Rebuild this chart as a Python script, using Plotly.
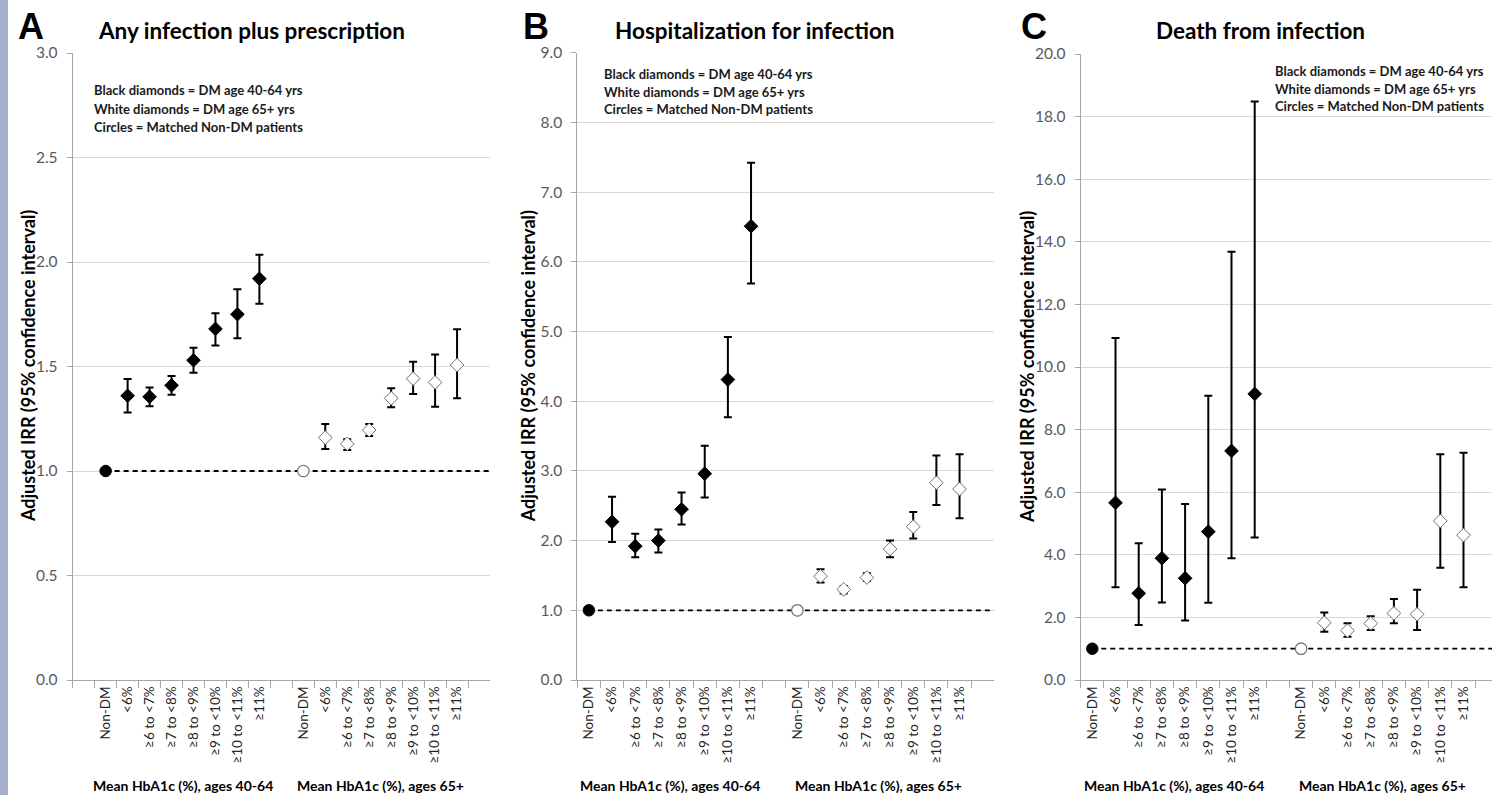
import plotly.graph_objects as go

W, H = 1492, 795

# ---------------- data ----------------
LABELS = ["Non-DM", "<6%", "≥6 to <7%", "≥7 to <8%", "≥8 to <9%", "≥9 to <10%", "≥10 to <11%", "≥11%"]
GROUP_TITLES = ["Mean HbA1c (%), ages 40-64", "Mean HbA1c (%), ages 65+"]
PANEL_LETTERS = ["A", "B", "C"]
PANEL_TITLES = ["Any infection plus prescription", "Hospitalization for infection", "Death from infection"]
Y_TITLE = "Adjusted IRR (95% confidence interval)"
LEGEND_LINES = ["Black diamonds = DM age 40-64 yrs", "White diamonds = DM age 65+ yrs", "Circles = Matched Non-DM patients"]
NON_DM_IRR = 1.0

# Panel A: Any infection plus prescription
A_dm40 = [1.36, 1.355, 1.41, 1.53, 1.68, 1.75, 1.92]
A_dm40_lo = [1.28, 1.31, 1.365, 1.47, 1.60, 1.635, 1.80]
A_dm40_hi = [1.44, 1.40, 1.455, 1.59, 1.755, 1.87, 2.035]
A_dm65 = [1.16, 1.13, 1.196, 1.348, 1.442, 1.424, 1.507]
A_dm65_lo = [1.105, 1.10, 1.167, 1.305, 1.368, 1.308, 1.348]
A_dm65_hi = [1.225, 1.152, 1.225, 1.396, 1.523, 1.558, 1.678]

# Panel B: Hospitalization for infection
B_dm40 = [2.27, 1.92, 2.00, 2.45, 2.96, 4.31, 6.51]
B_dm40_lo = [1.98, 1.76, 1.83, 2.23, 2.62, 3.77, 5.69]
B_dm40_hi = [2.63, 2.10, 2.16, 2.69, 3.36, 4.92, 7.42]
B_dm65 = [1.49, 1.30, 1.47, 1.88, 2.20, 2.83, 2.74]
B_dm65_lo = [1.40, 1.24, 1.42, 1.76, 2.03, 2.51, 2.32]
B_dm65_hi = [1.59, 1.35, 1.53, 2.00, 2.41, 3.22, 3.24]

# Panel C: Death from infection
C_dm40 = [5.66, 2.77, 3.89, 3.25, 4.74, 7.32, 9.14]
C_dm40_lo = [2.96, 1.76, 2.48, 1.90, 2.47, 3.89, 4.55]
C_dm40_hi = [10.93, 4.37, 6.09, 5.62, 9.08, 13.68, 18.48]
C_dm65 = [1.83, 1.58, 1.81, 2.13, 2.10, 5.08, 4.63]
C_dm65_lo = [1.54, 1.38, 1.60, 1.81, 1.60, 3.59, 2.96]
C_dm65_hi = [2.16, 1.81, 2.04, 2.59, 2.88, 7.21, 7.26]

# ---------------- categories ----------------
G40 = LABELS[:]
G65 = [l + "\u200b" for l in LABELS]          # same text, unique category key
CATS_A = [" "] + G40 + ["  "] + G65 + ["   "]
CATS_BC = G40 + [" "] + G65 + ["  "]

panels = [
    dict(cats=CATS_A, d40=(A_dm40, A_dm40_lo, A_dm40_hi), d65=(A_dm65, A_dm65_lo, A_dm65_hi),
         xdom=(72.7, 490.0), ytop=53.0, yrange=(0, 3), dtick=0.5, xend=len(CATS_A) - 0.5,
         legx=92, legy=[90.5, 109, 127], letterx=31, titlex=251, ytitlex=27.5),
    dict(cats=CATS_BC, d40=(B_dm40, B_dm40_lo, B_dm40_hi), d65=(B_dm65, B_dm65_lo, B_dm65_hi),
         xdom=(577.3, 994.3), ytop=52.7, yrange=(0, 9), dtick=1, xend=len(CATS_BC) - 0.5,
         legx=601.5, legy=[74, 91.7, 109], letterx=536, titlex=755, ytitlex=528),
    dict(cats=CATS_BC, d40=(C_dm40, C_dm40_lo, C_dm40_hi), d65=(C_dm65, C_dm65_lo, C_dm65_hi),
         xdom=(1080.7, 1492.0), ytop=54.0, yrange=(0, 20), dtick=2, xend=-0.5 + (1492.0 - 1080.7) / 23.2,
         legx=1273, legy=[71, 89.3, 106], letterx=1034, titlex=1260, ytitlex=1027),
]
YBOT = 680.0

FONT = "Lato"
fig = go.Figure()
annotations = []
shapes = []

# left decorative strip
shapes.append(dict(type="rect", xref="paper", yref="paper", x0=0, x1=8 / W, y0=0, y1=1,
                   fillcolor="#a5b0cc", line=dict(width=0), layer="below"))

for i, p in enumerate(panels):
    sfx = "" if i == 0 else str(i + 1)
    xa, ya = "x" + sfx, "y" + sfx
    cats = p["cats"]

    # invisible trace registering every category (incl. spacers)
    fig.add_trace(go.Scatter(x=cats, y=[None] * len(cats), xaxis=xa, yaxis=ya,
                             mode="markers", showlegend=False, hoverinfo="skip"))

    # non-DM reference circles
    fig.add_trace(go.Scatter(x=[G40[0]], y=[NON_DM_IRR], xaxis=xa, yaxis=ya, mode="markers",
                             marker=dict(symbol="circle", size=11.5, color="black", line=dict(color="black", width=1)),
                             showlegend=False))
    fig.add_trace(go.Scatter(x=[G65[0]], y=[NON_DM_IRR], xaxis=xa, yaxis=ya, mode="markers",
                             marker=dict(symbol="circle", size=11.5, color="white", line=dict(color="#6f6f6f", width=1.2)),
                             showlegend=False))

    for grp, (vals, lo, hi), fill, edge in [(G40, p["d40"], "black", "black"),
                                          (G65, p["d65"], "white", "#6f6f6f")]:
        fig.add_trace(go.Scatter(
            x=grp[1:], y=vals, xaxis=xa, yaxis=ya, mode="markers",
            marker=dict(symbol="diamond", size=10.5, color=fill, line=dict(color=edge, width=1)),
            error_y=dict(type="data", symmetric=False,
                         array=[h - v for h, v in zip(hi, vals)],
                         arrayminus=[v - l for v, l in zip(vals, lo)],
                         color="black", thickness=2, width=4),
            showlegend=False))

    # dashed reference line at IRR = 1
    shapes.append(dict(type="line", xref=xa, yref=ya, x0=cats.index(G40[0]), x1=p["xend"],
                       y0=NON_DM_IRR, y1=NON_DM_IRR, line=dict(color="black", width=1.8, dash="5px,4px"),
                       layer="between"))

    x0, x1 = p["xdom"]
    fig.update_layout(**{
        ("xaxis" + sfx): dict(
            domain=[x0 / W, x1 / W], anchor=ya, type="category",
            categoryorder="array", categoryarray=cats, range=[-0.5, p["xend"]],
            tickmode="linear", tick0=0, dtick=1, tickson="boundaries",
            ticks="outside", ticklen=7, tickcolor="#a6a6a6", tickwidth=1,
            showline=True, linecolor="#a6a6a6", linewidth=1, showgrid=False, zeroline=False,
            tickangle=-90, tickfont=dict(family=FONT, size=13.5, color="#262626"),
            automargin=False, fixedrange=True),
        ("yaxis" + sfx): dict(
            domain=[1 - YBOT / H, 1 - p["ytop"] / H], anchor=xa,
            range=list(p["yrange"]), tickmode="linear", tick0=0, dtick=p["dtick"], tickformat=".1f",
            ticks="outside", ticklen=5, tickcolor="#a6a6a6", ticklabelstandoff=6,
            showline=True, linecolor="#a6a6a6", linewidth=1,
            showgrid=True, gridcolor="#d9d9d9", gridwidth=1, zeroline=False,
            tickfont=dict(family=FONT, size=15.5, color="#595959"),
            automargin=False, fixedrange=True),
    })

    # panel letter and title
    annotations.append(dict(text="<b>%s</b>" % PANEL_LETTERS[i], xref="paper", yref="paper",
                            x=p["letterx"] / W, y=1 - 27 / H, xanchor="center", yanchor="middle",
                            showarrow=False, font=dict(family="Liberation Sans", size=36, color="black")))
    annotations.append(dict(text="<b>%s</b>" % PANEL_TITLES[i], xref="paper", yref="paper",
                            x=p["titlex"] / W, y=1 - 31 / H, xanchor="center", yanchor="middle",
                            showarrow=False, font=dict(family=FONT, size=22.5, color="black")))
    # y-axis title
    annotations.append(dict(text="<b>%s</b>" % Y_TITLE, xref="paper", yref="paper",
                            x=p["ytitlex"] / W, y=1 - ((YBOT + p["ytop"]) / 2) / H, textangle=-90,
                            xanchor="center", yanchor="middle", showarrow=False,
                            font=dict(family=FONT, size=18, color="black")))
    # legend text
    for line, ly in zip(LEGEND_LINES, p["legy"]):
        annotations.append(dict(text="<b>%s</b>" % line, xref="paper", yref="paper",
                                x=p["legx"] / W, y=1 - ly / H, xanchor="left", yanchor="middle",
                                showarrow=False, font=dict(family=FONT, size=13, color="#1a1a1a")))
    # group titles under category axis
    for grp, gt in zip([G40, G65], GROUP_TITLES):
        ctr = (cats.index(grp[0]) + cats.index(grp[-1])) / 2
        annotations.append(dict(text="<b>%s</b>" % gt, xref=xa, yref="paper",
                                x=ctr, y=1 - 785 / H, xanchor="center", yanchor="middle",
                                showarrow=False, font=dict(family=FONT, size=14, color="black")))

fig.update_layout(
    width=W, height=H,
    margin=dict(l=0, r=0, t=0, b=0),
    paper_bgcolor="white", plot_bgcolor="white",
    showlegend=False,
    annotations=annotations, shapes=shapes,
    font=dict(family=FONT),
)

fig.write_html("out.html", config={"displayModeBar": False},
               post_script="document.body.style.margin='0';document.body.style.overflow='hidden';")
